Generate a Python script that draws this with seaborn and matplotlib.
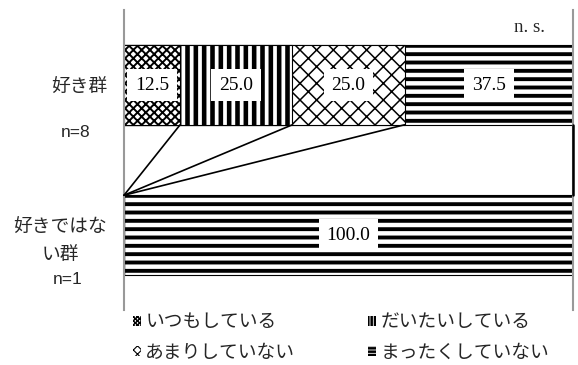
# 好き群／好きではない群 の回答割合（帯グラフ）
import pandas as pd
import matplotlib
matplotlib.use('Agg')
import matplotlib.pyplot as plt
import matplotlib.patches as mpatches
import seaborn as sns

# データ
groups = ['好き群', '好きではな\nい群']
group_n = ['n=8', 'n=1']
answers = ['いつもしている', 'だいたいしている', 'あまりしていない', 'まったくしていない']
itsumo = [12.5, 0.0]
daitai = [25.0, 0.0]
amari = [25.0, 0.0]
mattaku = [37.5, 100.0]

hatches = ['xxxx', '||', 'xx', '--']
hatch_lw = [1.4, 3.3, 1.1, 2.8]
# 凡例の小さな四角用
leg_hatches = ['xxxxxxxx', '|||||', 'xxxx', '-----']
leg_hatch_lw = [1.0, 1.8, 0.8, 1.8]

sns.set_theme(style='white')
plt.rcParams['font.family'] = ['Noto Sans CJK JP', 'DejaVu Sans']

df = pd.DataFrame({'group': groups,
                   answers[0]: itsumo, answers[1]: daitai,
                   answers[2]: amari, answers[3]: mattaku})
cum = df[answers].cumsum(axis=1)

fig = plt.figure(figsize=(5.78, 3.65), dpi=100)
ax = fig.add_axes([124/578, 55/365, 449/578, 300/365])

w = 0.53
# 累積値を大きい順に重ねて描く
for i in reversed(range(len(answers))):
    n0 = len(ax.patches)
    with plt.rc_context({'hatch.linewidth': hatch_lw[i]}):
        sns.barplot(x=cum[answers[i]], y=df['group'], orient='h', color='white',
                    saturation=1, edgecolor='black', linewidth=0.8, width=w,
                    errorbar=None, ax=ax)
        for p in ax.patches[n0:]:
            p.set_hatch(hatches[i])
            if hasattr(p, 'set_hatch_linewidth'):
                p.set_hatch_linewidth(hatch_lw[i])

# 数値ラベル
for j in range(len(groups)):
    for a in answers:
        v = df.loc[j, a]
        if v > 0:
            xc = cum.loc[j, a] - v / 2
            ax.text(xc, j, f'{v:.1f}', ha='center', va='center',
                    family='Liberation Serif', fontsize=14, color='black',
                    bbox=dict(boxstyle='square,pad=0.4', fc='white', ec='none'),
                    zorder=5)

# 区分線
for i in range(len(answers)):
    lw = 1.2 if i < len(answers) - 1 else 1.8
    ax.plot([cum.loc[0, answers[i]], cum.loc[1, answers[i]]], [w / 2, 1 - w / 2],
            color='black', lw=lw, zorder=4, clip_on=False)

ax.set_xlim(0, 100)
ax.set_ylim(1.5, -0.5)
ax.set_xticks([])
ax.set_xlabel('')
ax.set_ylabel('')
ax.set_yticks([0, 1])
ax.set_yticklabels(groups, fontsize=13.5)
for lab in ax.get_yticklabels():
    lab.set_multialignment('center')
    lab.set_linespacing(1.4)
ax.tick_params(axis='y', length=0, pad=12)
for s in ['top', 'bottom']:
    ax.spines[s].set_visible(False)
for s in ['left', 'right']:
    ax.spines[s].set_color('#999999')
    ax.spines[s].set_linewidth(1.5)

fig.text(76/578, 1 - 133/365, group_n[0], ha='center', va='center',
         family='Liberation Sans', fontsize=12.5)
fig.text(68/578, 1 - 279/365, group_n[1], ha='center', va='center',
         family='Liberation Sans', fontsize=12.5)
fig.text(530/578, 1 - 28/365, 'n. s.', ha='center', va='center',
         family='Liberation Serif', fontsize=13.5)

# 凡例（行方向に並べるため順序を入れ替え）
order = [0, 2, 1, 3]
handles = [mpatches.Patch(facecolor='white', edgecolor='black', linewidth=0,
                          hatch=leg_hatches[i]) for i in order]
leg = fig.legend(handles, [answers[i] for i in order], ncol=2,
                 loc='center left', bbox_to_anchor=(133/578, 1 - 337/365),
                 frameon=False, fontsize=13.5, handlelength=0.4, handleheight=0.45,
                 handletextpad=0.25, columnspacing=3.9, labelspacing=0.5,
                 borderaxespad=0, borderpad=0)
for h, i in zip(leg.legend_handles, order):
    h.set_hatch(leg_hatches[i])
    if hasattr(h, 'set_hatch_linewidth'):
        h.set_hatch_linewidth(leg_hatch_lw[i])

fig.savefig('out.png', dpi=100)
